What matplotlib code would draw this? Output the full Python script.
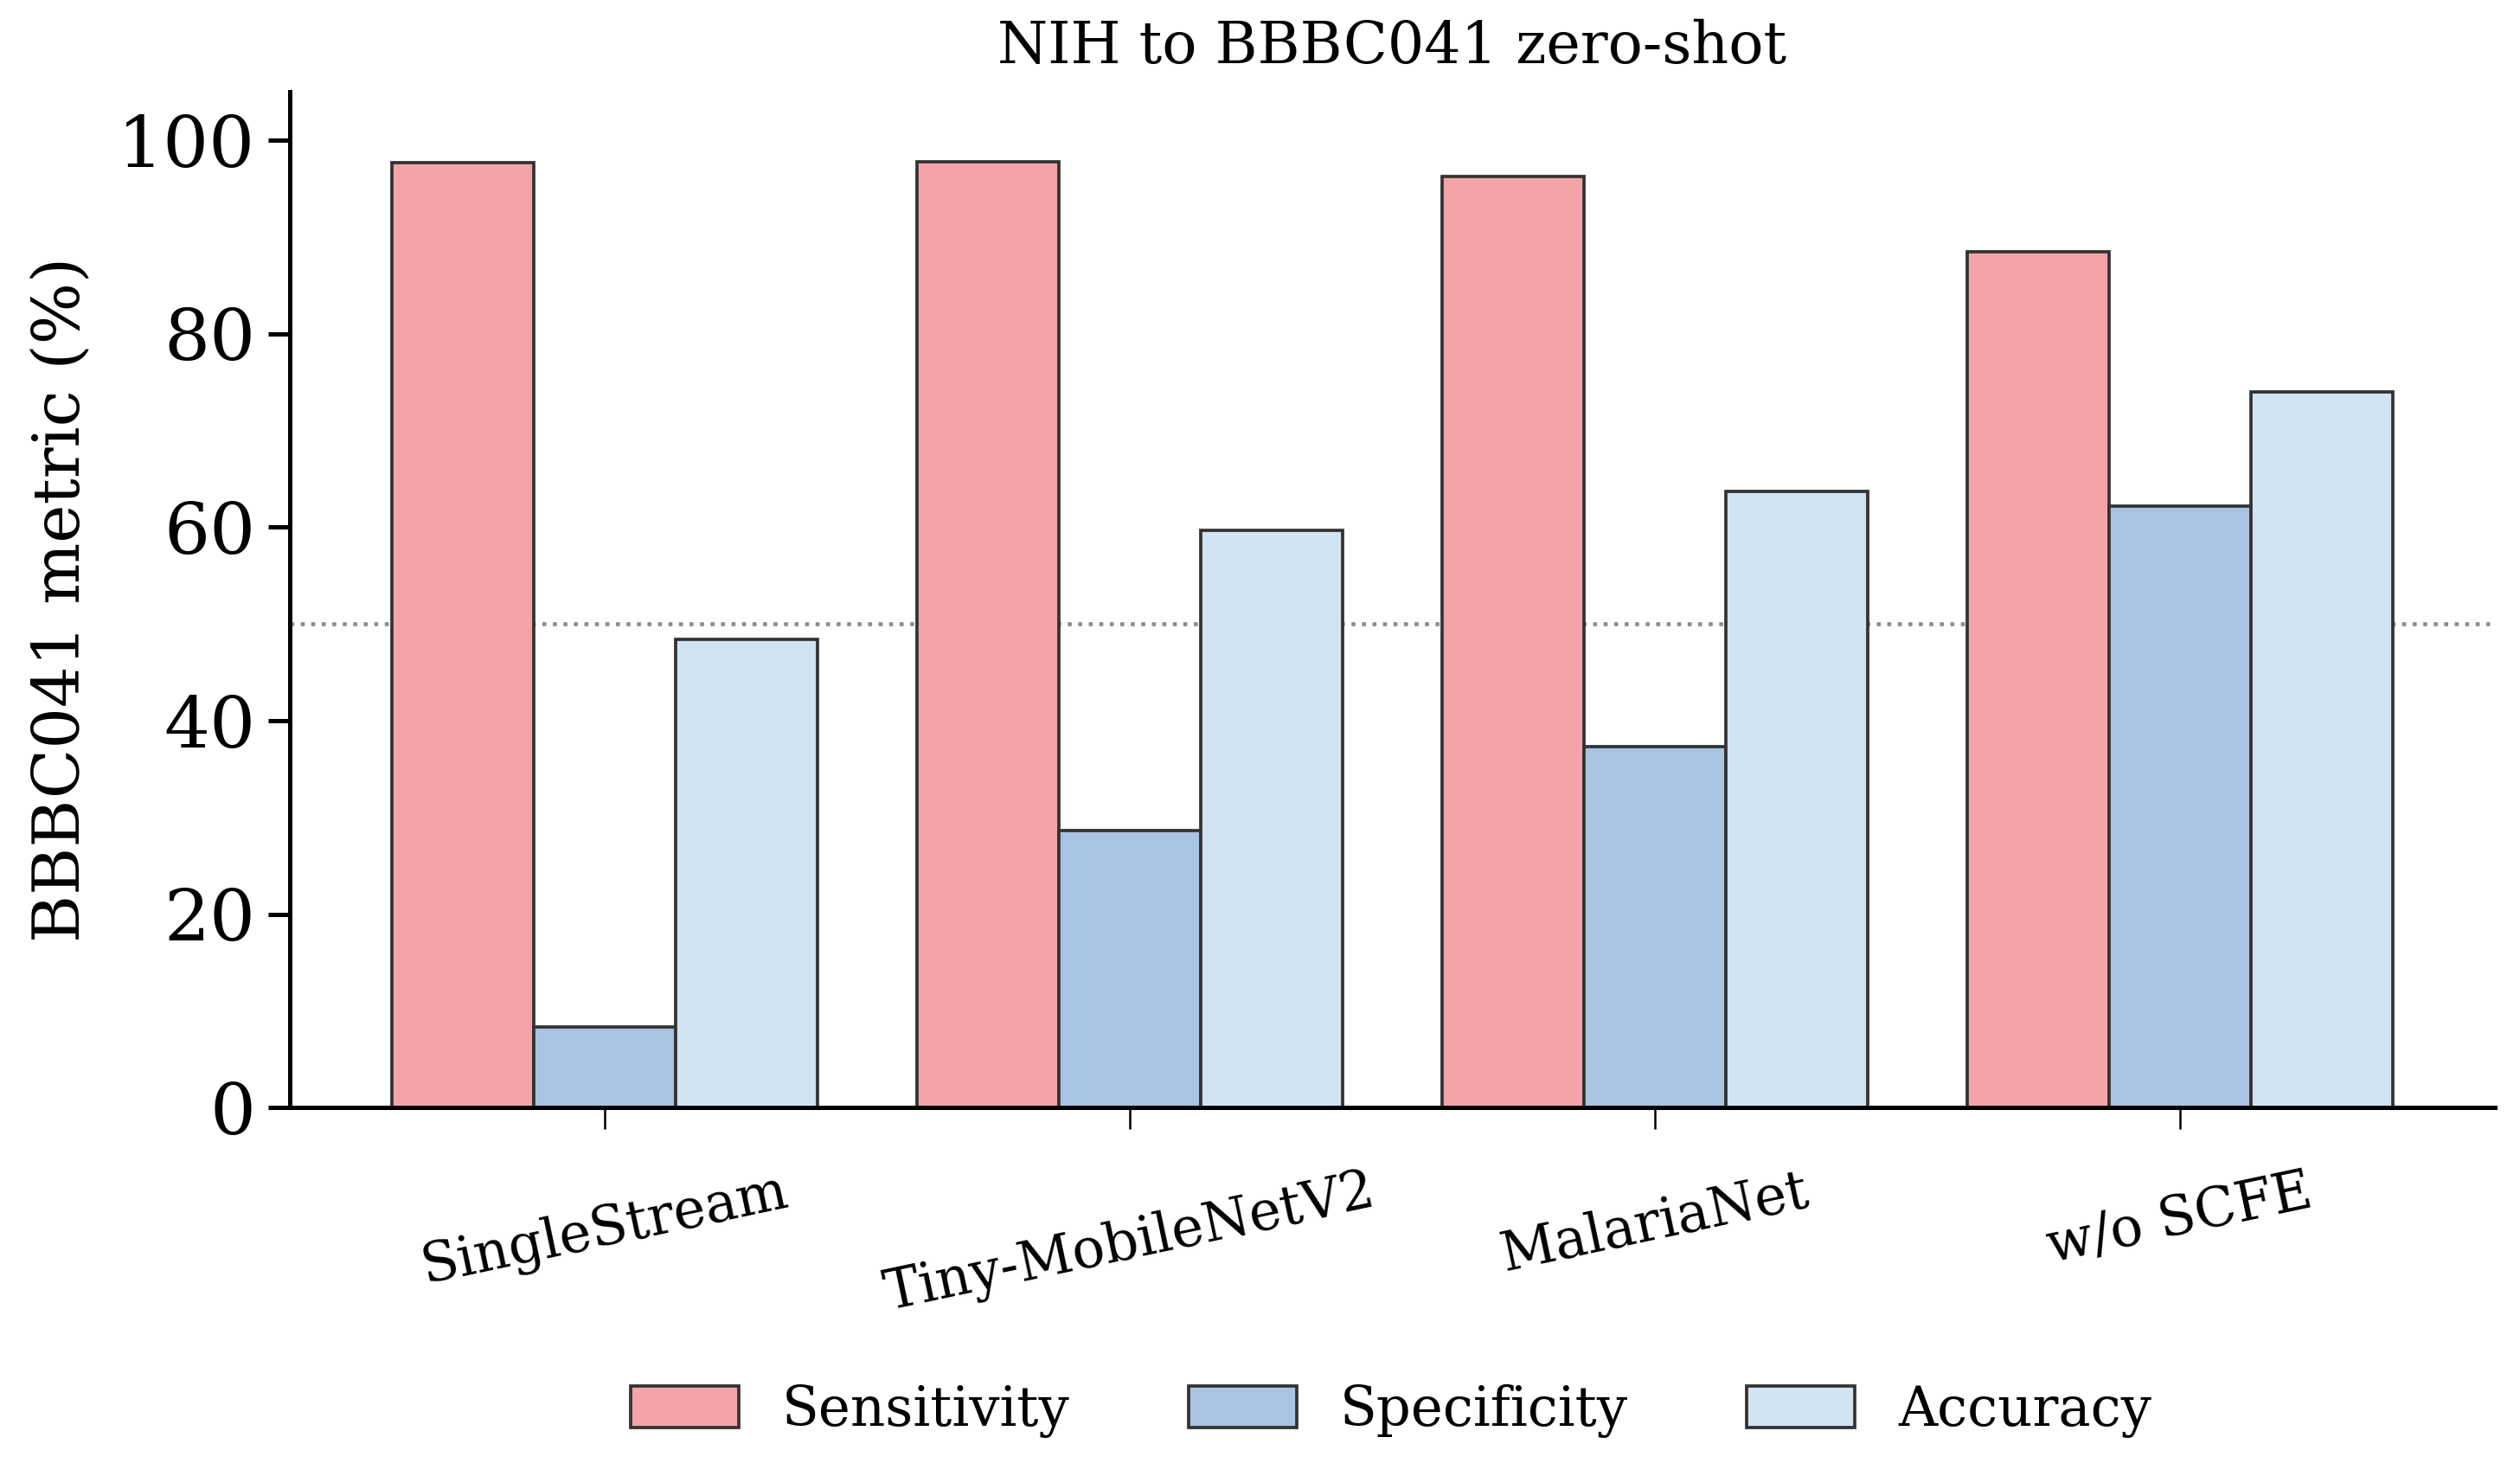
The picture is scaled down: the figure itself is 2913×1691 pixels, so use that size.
import matplotlib
matplotlib.use("Agg")
import matplotlib.pyplot as plt
import numpy as np

MODELS = ["SingleStream", "Tiny-MobileNetV2", "MalariaNet", "w/o SCFE"]
SENSITIVITY = [97.7, 97.8, 96.3, 88.5]
SPECIFICITY = [8.3, 28.6, 37.3, 62.2]
ACCURACY = [48.4, 59.7, 63.7, 74.0]
METRICS = ["Sensitivity", "Specificity", "Accuracy"]
COLORS = ["#f4a4a9", "#a9c4e2", "#d2e3f2"]
CHANCE = 50

plt.rcParams["font.family"] = "DejaVu Serif"

fig, ax = plt.subplots(figsize=(9.71, 5.637), dpi=300)
fig.subplots_adjust(left=0.115, right=0.99, top=0.937, bottom=0.243)

x = np.arange(len(MODELS))
width = 0.27
for i, (vals, name, col) in enumerate(zip([SENSITIVITY, SPECIFICITY, ACCURACY], METRICS, COLORS)):
    ax.bar(x + (i - 1) * width, vals, width, color=col, edgecolor="#333333",
           linewidth=0.9, label=name, zorder=2)

ax.axhline(CHANCE, color="#8c8c8c", linestyle=":", linewidth=1.1, zorder=1)

ax.set_xlim(-0.6, 3.6)
ax.set_ylim(0, 105)
ax.set_yticks([0, 20, 40, 60, 80, 100])
ax.tick_params(axis="y", labelsize=20, length=6, width=1.2)
ax.tick_params(axis="x", labelsize=15, length=6, width=0.6, pad=10)
ax.set_xticks(x)
ax.set_xticklabels(MODELS, rotation=12)
ax.set_ylabel("BBBC041 metric (%)", fontsize=18, labelpad=7)
ax.set_title("NIH to BBBC041 zero-shot", fontsize=16, pad=8)
for s in ["top", "right"]:
    ax.spines[s].set_visible(False)
for s in ["left", "bottom"]:
    ax.spines[s].set_linewidth(1.2)

fig.legend(loc="lower center", ncol=3, frameon=False, fontsize=15,
           handlelength=2.0, handleheight=0.8, columnspacing=2.2,
           bbox_to_anchor=(0.552, -0.016))

fig.savefig("out.png", dpi=300)
